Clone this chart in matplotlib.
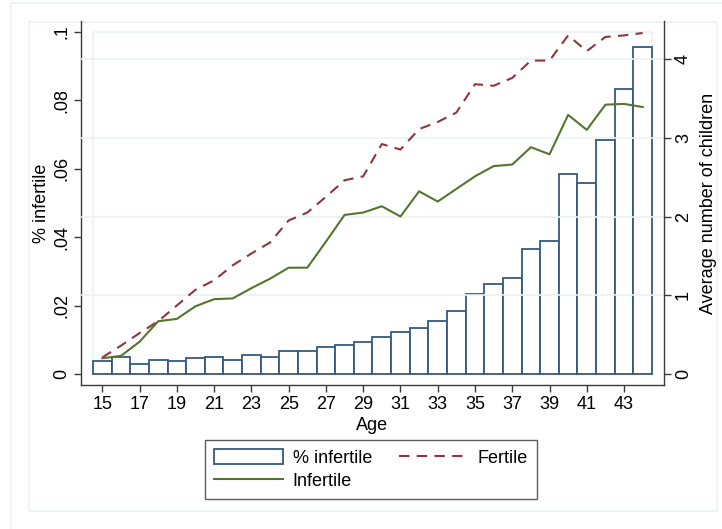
import numpy as np
import matplotlib
matplotlib.use('Agg')
import matplotlib.pyplot as plt
from matplotlib.patches import Rectangle, Patch
from matplotlib.lines import Line2D

plt.rcParams['font.family'] = ['Liberation Sans', 'DejaVu Sans']

# data
ages = np.arange(15, 45)
pct_infertile = [0.0038, 0.0049, 0.0028, 0.0041, 0.0039, 0.0048, 0.0051, 0.0040,
                 0.0055, 0.0051, 0.0067, 0.0068, 0.0080, 0.0086, 0.0094, 0.0108,
                 0.0123, 0.0134, 0.0154, 0.0183, 0.0234, 0.0262, 0.0281, 0.0365,
                 0.0390, 0.0584, 0.0558, 0.0683, 0.0832, 0.0957]
fertile = [0.21, 0.36, 0.52, 0.67, 0.87, 1.07, 1.19, 1.38, 1.53, 1.67,
           1.95, 2.05, 2.25, 2.46, 2.51, 2.92, 2.85, 3.11, 3.20, 3.32,
           3.68, 3.66, 3.76, 3.98, 3.98, 4.30, 4.10, 4.28, 4.30, 4.33]
infertile = [0.20, 0.23, 0.41, 0.67, 0.70, 0.86, 0.95, 0.96, 1.09, 1.21,
             1.35, 1.35, 1.68, 2.02, 2.05, 2.13, 2.00, 2.32, 2.19, 2.35,
             2.51, 2.64, 2.66, 2.88, 2.79, 3.29, 3.10, 3.42, 3.43, 3.39]

left_ticks = [0, 0.02, 0.04, 0.06, 0.08, 0.1]
left_labels = ['0', '.02', '.04', '.06', '.08', '.1']
right_ticks = [0, 1, 2, 3, 4]
x_ticks = list(range(15, 44, 2))

W, H = 722, 529
fig = plt.figure(figsize=(W / 100, H / 100), dpi=100)
fig.patch.set_facecolor('white')

grid_col = '#eaf2f3'
bar_edge = '#35597d'
maroon = '#90353b'
green = '#55752f'
spine_col = '#3a3a3a'

# faint graph-region frames (Stata style)
fig.add_artist(Rectangle((29 / W, 1 - 511 / H), (717 - 29) / W, (511 - 21.7) / H,
                         transform=fig.transFigure, fill=False, ec=grid_col, lw=1.2))
fig.add_artist(Line2D([10.7 / W, 10.7 / W], [0, 1 - 2.7 / H],
                      transform=fig.transFigure, color=grid_col, lw=1.2))
fig.add_artist(Line2D([10.7 / W, 1], [1 - 2.7 / H, 1 - 2.7 / H],
                      transform=fig.transFigure, color=grid_col, lw=1.2))

ax = fig.add_axes([81 / W, 1 - 385 / H, (664 - 81) / W, (385 - 21) / H])
ax2 = ax.twinx()

px_year = (652 - 93) / 30
ax.set_xlim(14.5 - 12 / px_year, 44.5 + 12 / px_year)
px_left = (374 - 32) / 0.1
ax.set_ylim(-11 / px_left, 0.1 + 11 / px_left)
px_right = (374 - 59) / 4
ax2.set_ylim(-11 / px_right, 4 + (59 - 21) / px_right)

# plot region frame and gridlines
ax.add_patch(Rectangle((14.5, 0), 30, 0.1, fill=False, ec=grid_col, lw=1.2, zorder=0))
for t in right_ticks[1:]:
    ax2.axhline(t, color=grid_col, lw=1.2, zorder=0)

ax.bar(ages, pct_infertile, width=1.0, facecolor='white', edgecolor=bar_edge,
       linewidth=1.3, zorder=2)
ax.set_zorder(1)
ax.patch.set_visible(False)
ax2.set_zorder(2)
ax2.plot(ages, fertile, color=maroon, lw=1.5, dashes=(5, 3.5))
ax2.plot(ages, infertile, color=green, lw=1.5)

for a in (ax, ax2):
    a.spines['top'].set_visible(False)
    for s in ('left', 'right', 'bottom'):
        a.spines[s].set_color(spine_col)
        a.spines[s].set_linewidth(1.0)
ax.spines['right'].set_visible(False)
ax2.spines['left'].set_visible(False)
ax2.spines['bottom'].set_visible(False)

ax.set_xticks(x_ticks)
ax.set_yticks(left_ticks)
ax.set_yticklabels(left_labels, rotation=90, va='center')
ax2.set_yticks(right_ticks)
ax2.set_yticklabels([str(t) for t in right_ticks], rotation=90, va='center')
for a in (ax, ax2):
    a.tick_params(axis='both', direction='out', length=5, width=1.0,
                  color=spine_col, labelsize=13, pad=3)

ax.set_xlabel('Age', fontsize=13, labelpad=3)
ax.set_ylabel('% infertile', fontsize=13, labelpad=2)
ax2.set_ylabel('Average number of children', fontsize=13, labelpad=6)

handles = [Patch(facecolor='white', edgecolor=bar_edge, linewidth=1.3),
           Line2D([], [], color=green, lw=1.5),
           Line2D([], [], color=maroon, lw=1.5, dashes=(5, 3.5))]
labels = ['% infertile', 'Infertile', 'Fertile']
leg = fig.legend(handles, labels, ncol=2, loc='upper left',
                 bbox_to_anchor=(205 / W, 1 - 440 / H), fontsize=13,
                 frameon=True, fancybox=False, edgecolor='#333333',
                 handlelength=3.8, handleheight=0.9, handletextpad=0.55,
                 columnspacing=1.5, borderpad=0.5, labelspacing=0.3,
                 borderaxespad=0)
leg.get_frame().set_linewidth(1.0)

fig.savefig('out.png', dpi=100)
